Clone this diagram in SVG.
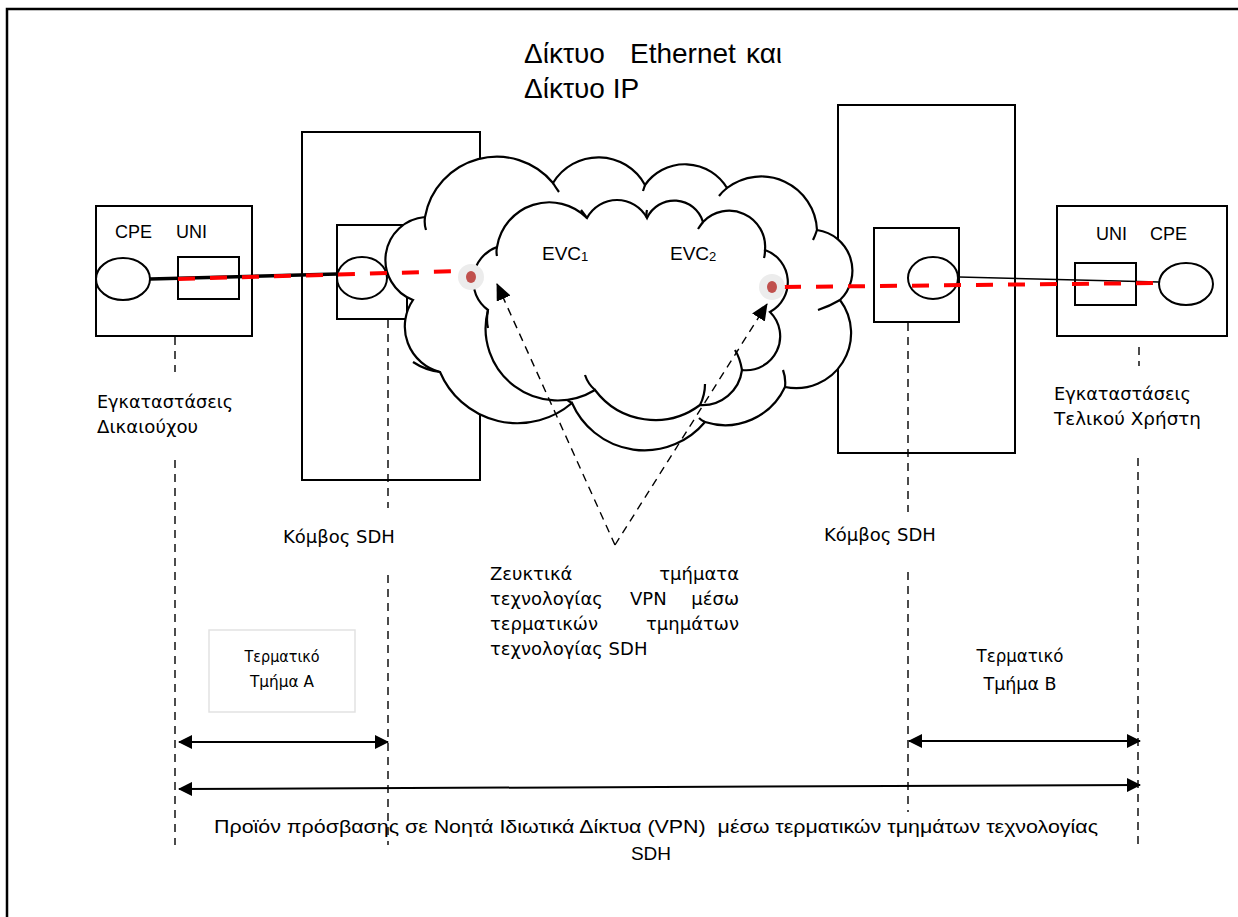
<svg xmlns="http://www.w3.org/2000/svg" width="1238" height="917" viewBox="0 0 1238 917">
<style>
.ln{fill:none;stroke:#000;stroke-width:2}
.box{fill:#fff;stroke:#000;stroke-width:2}
.dash{fill:none;stroke:#000;stroke-width:1.4;stroke-dasharray:8 6}
.red{fill:none;stroke:#ff0000;stroke-width:4;stroke-dasharray:17 15}
.cloud{fill:#fff;stroke:#000;stroke-width:2.2}
.hint{fill:none;stroke:#000;stroke-width:2.2}
.a{font-family:"Liberation Sans",Arial,sans-serif;fill:#000}
.g{font-family:"DejaVu Sans","Liberation Sans",sans-serif;fill:#000}
</style>
<defs>
<marker id="ah" viewBox="0 0 14 14" refX="13" refY="7" markerWidth="14" markerHeight="14" markerUnits="userSpaceOnUse" orient="auto-start-reverse">
<path d="M0,0 L14,7 L0,14 z" fill="#000"/>
</marker>
<marker id="ah2" viewBox="0 0 17 15" refX="16" refY="7.5" markerWidth="17" markerHeight="15" markerUnits="userSpaceOnUse" orient="auto">
<path d="M0,0 L17,7.5 L0,15 z" fill="#000"/>
</marker>
</defs>
<rect width="1238" height="917" fill="#fff"/>
<path id="frame" d="M7,917 V9 H1238" fill="none" stroke="#000" stroke-width="2.5"/>

<g id="title">
<text class="a" font-size="28" y="63"><tspan x="524">Δίκτυο</tspan><tspan x="630">Ethernet</tspan><tspan x="746">και</tspan></text>
<text class="a" font-size="28" x="524" y="98">Δίκτυο IP</text>
</g>

<g id="sdh-left">
<rect class="box" x="302" y="132" width="178" height="348"/>
<rect class="box" x="337" y="225" width="70" height="94"/>
<ellipse class="box" cx="362" cy="278" rx="25" ry="21"/>
</g>

<g id="sdh-right">
<rect class="box" x="838" y="105" width="177" height="348"/>
<rect class="box" x="874" y="228" width="85" height="94"/>
<ellipse class="box" cx="933" cy="278" rx="25" ry="21"/>
</g>

<g id="cloud">
<path class="cloud" d="M425,217 A73,73 0 0 1 553,183 A53,53 0 0 1 645,185 A49,49 0 0 1 727,188 A56,56 0 0 1 817,230 A41,41 0 0 1 840,300 A55,55 0 0 1 785,387 A66,66 0 0 1 705,422 A79,79 0 0 1 572,403 A84,84 0 0 1 440,372 A47,47 0 0 1 413,300 A43,43 0 0 1 425,217 Z"/>
<path class="hint" d="M425,217 Q424,224 426,230 M553,183 Q556,188 559,192 M645,185 Q644,188 643,191 M727,188 Q722,192 719,196 M817,230 Q815,236 813,240 M840,300 Q830,306 818,310 M785,387 Q786,378 783,370 M705,422 Q701,420 699,418 M572,403 Q568,401 565,398 M440,372 Q425,370 413,362"/>
<path class="cloud" d="M497,247 A53,53 0 0 1 587,218 A34,34 0 0 1 647,218 A30,30 0 0 1 703,222 A36,36 0 0 1 765,250 A34,34 0 0 1 770,312 A34,34 0 0 1 742,370 A40,40 0 0 1 700,405 A75,75 0 0 1 595,390 A72,72 0 0 1 488,310 A36,36 0 0 1 497,247 Z"/>
<path class="hint" d="M497,247 Q496,252 497,256 M587,218 Q584,214 581,210 M647,218 Q646,214 647,210 M703,222 Q700,226 698,229 M765,250 Q765,255 764,258 M700,405 Q705,395 705,384 M595,390 Q588,384 585,375 M488,310 Q486,320 488,328 M742,370 Q740,358 735,350"/>
<text class="a" font-size="19" x="542" y="260">EVC<tspan font-size="13" dy="1">1</tspan></text>
<text class="a" font-size="19" x="670" y="260">EVC<tspan font-size="13" dy="1">2</tspan></text>
</g>

<g id="cpe-left">
<rect class="box" x="96" y="206" width="156" height="130"/>
<ellipse class="box" cx="123" cy="279" rx="27" ry="21"/>
<rect class="box" x="178" y="257" width="61" height="42"/>
<text class="a" font-size="18" x="115" y="238">CPE</text>
<text class="a" font-size="18" x="176" y="238">UNI</text>
</g>

<g id="cpe-right">
<rect class="box" x="1057" y="206" width="170" height="130"/>
<rect class="box" x="1075" y="263" width="61" height="42"/>
<ellipse class="box" cx="1186" cy="284" rx="27" ry="21"/>
<text class="a" font-size="18" x="1096" y="240">UNI</text>
<text class="a" font-size="18" x="1150" y="240">CPE</text>
</g>

<g id="connectors">
<line x1="150" y1="279" x2="337" y2="274" stroke="#000" stroke-width="3.5"/>
<line x1="959" y1="277" x2="1159" y2="282" stroke="#000" stroke-width="1.5"/>
<line class="red" x1="178" y1="279" x2="462" y2="271"/>
<line class="red" x1="784" y1="287" x2="1159" y2="283"/>
<line class="dash" x1="615" y1="545" x2="497" y2="284" marker-end="url(#ah2)"/>
<line class="dash" x1="615" y1="545" x2="767" y2="304" marker-end="url(#ah2)"/>
<line class="dash" x1="175" y1="337" x2="175" y2="372"/>
<line class="dash" x1="175" y1="460" x2="175" y2="845"/>
<line class="dash" x1="388" y1="320" x2="388" y2="508"/>
<line class="dash" x1="388" y1="575" x2="388" y2="845"/>
<line class="dash" x1="908" y1="323" x2="908" y2="512"/>
<line class="dash" x1="908" y1="572" x2="908" y2="812"/>
<line class="dash" x1="1139" y1="347" x2="1139" y2="366"/>
<line class="dash" x1="1138" y1="458" x2="1138" y2="845"/>
<line class="ln" x1="179" y1="742" x2="388" y2="742" marker-start="url(#ah)" marker-end="url(#ah)"/>
<line class="ln" x1="909" y1="741" x2="1140" y2="741" marker-start="url(#ah)" marker-end="url(#ah)"/>
<line class="ln" x1="179" y1="789" x2="1140" y2="785" marker-start="url(#ah)" marker-end="url(#ah)"/>
</g>

<g id="evc-points">
<circle cx="471" cy="277" r="13" fill="#ececec"/>
<ellipse cx="471" cy="277" rx="5" ry="6" fill="#c0504d"/>
<circle cx="772" cy="287" r="13" fill="#ececec"/>
<ellipse cx="772" cy="287" rx="5" ry="6" fill="#c0504d"/>
</g>

<g id="labels">
<text class="g" font-size="18" x="97" y="408" textLength="136" lengthAdjust="spacingAndGlyphs">Εγκαταστάσεις</text>
<text class="g" font-size="18" x="97" y="433" textLength="101" lengthAdjust="spacingAndGlyphs">Δικαιούχου</text>
<text class="g" font-size="18" x="1054" y="400" textLength="137" lengthAdjust="spacingAndGlyphs">Εγκαταστάσεις</text>
<text class="g" font-size="18" x="1054" y="425" textLength="147" lengthAdjust="spacingAndGlyphs">Τελικού Χρήστη</text>
<text class="g" font-size="18" x="283" y="543">Κόμβος SDH</text>
<text class="g" font-size="18" x="824" y="541">Κόμβος SDH</text>
<text class="g" font-size="18"><tspan x="490" y="580">Ζευκτικά</tspan><tspan x="739" y="580" text-anchor="end">τμήματα</tspan><tspan x="490" y="605">τεχνολογίας</tspan><tspan x="630" y="605">VPN</tspan><tspan x="739" y="605" text-anchor="end">μέσω</tspan><tspan x="490" y="630">τερματικών</tspan><tspan x="739" y="630" text-anchor="end">τμημάτων</tspan><tspan x="490" y="655">τεχνολογίας SDH</tspan></text>
</g>

<g id="segment-a">
<rect x="209" y="630" width="146" height="82" fill="#fff" stroke="#e2e2e2" stroke-width="1.5"/>
<text class="g" font-size="16" x="282" y="662" text-anchor="middle" textLength="75" lengthAdjust="spacingAndGlyphs">Τερματικό</text>
<text class="g" font-size="16" x="282" y="687" text-anchor="middle" textLength="64" lengthAdjust="spacingAndGlyphs">Τμήμα A</text>
</g>

<g id="segment-b">
<text class="g" font-size="18" x="1020" y="662" text-anchor="middle" textLength="87" lengthAdjust="spacingAndGlyphs">Τερματικό</text>
<text class="g" font-size="18" x="1020" y="690" text-anchor="middle" textLength="73" lengthAdjust="spacingAndGlyphs">Τμήμα B</text>
</g>

<g id="product">
<text class="a" font-size="19" x="214" y="833" textLength="884" lengthAdjust="spacingAndGlyphs" style="white-space:pre">Προϊόν πρόσβασης σε Νοητά Ιδιωτικά Δίκτυα (VPN)  μέσω τερματικών τμημάτων τεχνολογίας</text>
<text class="a" font-size="19" x="651" y="860" text-anchor="middle">SDH</text>
</g>
</svg>
